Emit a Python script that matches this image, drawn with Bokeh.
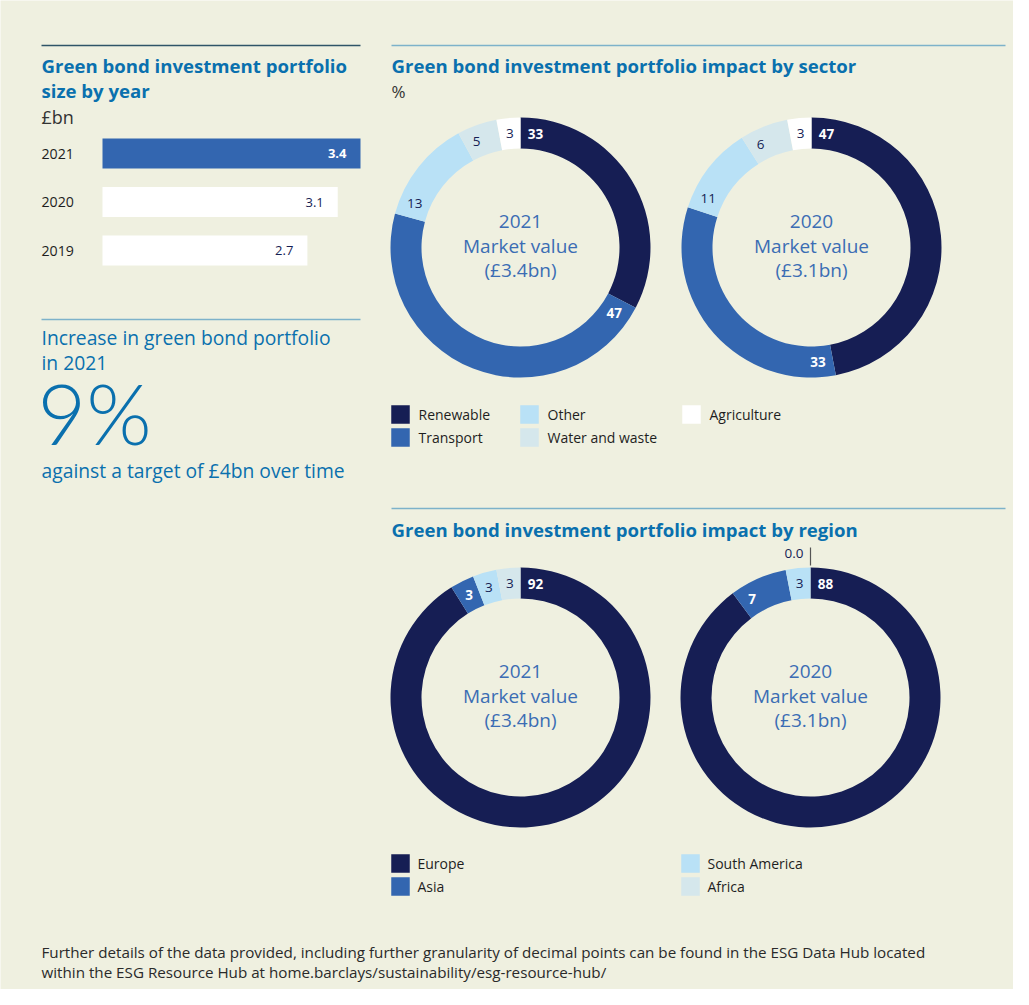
import math
from bokeh.plotting import figure
from bokeh.models import Range1d
from bokeh.core.properties import value
from bokeh.embed import file_html
from bokeh.resources import INLINE

# ---------------- data ----------------
bar_years = ["2021", "2020", "2019"]
bar_values = [3.4, 3.1, 2.7]

sector_names = ["Renewable", "Transport", "Other", "Water and waste", "Agriculture"]
sector_2021 = [33, 47, 13, 5, 3]
sector_2020 = [47, 33, 11, 6, 3]

region_names = ["Europe", "Asia", "South America", "Africa"]
region_2021 = [92, 3, 3, 3]
region_2020 = [88, 7, 3, 0.0]

donut_years = ["2021", "2020"]
market_values = [3.4, 3.1]
increase_pct = 9
target_bn = 4

# ---------------- style ----------------
BG = "#EFF0E0"
TITLE = "#0A70AE"
CENTER = "#3B6DB4"
NAVY = "#161E54"
MID = "#3366B0"
LIGHT = "#B9E1F6"
PALE = "#D5E7EC"
WHITE = "#FFFFFF"
DARK = "#1E1E1E"
RULE_DARK = "#2F5468"
RULE = "#7DB2CA"
FONT = "Open Sans"

sector_colors = [NAVY, MID, LIGHT, PALE, WHITE]
region_colors = [NAVY, MID, LIGHT, PALE]

W, H = 1013, 989
OX, OY = 0, 0

p = figure(width=W, height=H, x_range=Range1d(OX, OX + W), y_range=Range1d(OY + H, OY),
           output_backend="svg", toolbar_location=None, min_border=0,
           background_fill_color=BG, border_fill_color=BG, outline_line_color=None)
p.axis.visible = False
p.grid.visible = False


def txt(x, y, s, size, color=DARK, style="normal", align="left", font=FONT, **kw):
    p.text(x=[x], y=[y], text=[s], text_font=value(font), text_font_size=f"{size}px",
           text_color=color, text_font_style=style, text_align=align,
           text_baseline="middle", **kw)


def rule(x0, x1, y, color):
    p.segment(x0=[x0], y0=[y], x1=[x1], y1=[y], line_color=color, line_width=1.3)


# ---------------- left column ----------------
rule(41, 360, 45, RULE_DARK)
txt(41, 65, "Green bond investment portfolio", 18.6, TITLE, "bold")
txt(41, 90, "size by year", 18.6, TITLE, "bold")
txt(41, 116, "£bn", 18, "#333333")

BAR_X0 = 102
BAR_SCALE = 258 / 3.4  # px per £bn
p.extra_x_ranges = {"bar": Range1d(start=(OX - BAR_X0) / BAR_SCALE,
                                   end=(OX + W - BAR_X0) / BAR_SCALE)}
bar_y = [153 + i * 48.5 for i in range(len(bar_years))]
bar_fill = [MID if i == 0 else WHITE for i in range(len(bar_years))]
p.hbar(y=bar_y, left=0, right=bar_values, height=30, x_range_name="bar",
       fill_color=bar_fill, line_color=None)
for i, (yr, v) in enumerate(zip(bar_years, bar_values)):
    txt(41, bar_y[i], yr, 14.2, DARK)
    p.text(x=[v], y=[bar_y[i]], text=[f"{v}"], x_range_name="bar", x_offset=-14,
           text_font=value(FONT), text_font_size="13px",
           text_color=WHITE if i == 0 else NAVY, text_font_style="bold" if i == 0 else "normal",
           text_align="right", text_baseline="middle")

rule(41, 360, 319, RULE)
txt(41, 337, "Increase in green bond portfolio", 19.3, TITLE)
txt(41, 362, "in 2021", 19.3, TITLE)
txt(37, 412, f"{increase_pct}%", 84, TITLE, font="Lato Light, Lato")
txt(41, 470, f"against a target of £{target_bn}bn over time", 19.3, TITLE)

# ---------------- donuts ----------------
R_OUT, R_IN = 130, 99
R_MID = (R_OUT + R_IN) / 2


def donut(cx, cy, vals, colors, year, mv):
    total = sum(vals)
    theta = 0.0
    for i, (v, c) in enumerate(zip(vals, colors)):
        seg = v / total * 360.0
        if v > 0:
            a_start = math.radians(90 - theta)
            a_end = math.radians(90 - (theta + seg))
            p.annular_wedge(x=[cx], y=[cy], inner_radius=R_IN, outer_radius=R_OUT,
                            inner_radius_units="screen", outer_radius_units="screen",
                            start_angle=a_end, end_angle=a_start, direction="anticlock",
                            fill_color=c, line_color=None)
            lab = f"{v:g}"
            off_px = 15 if len(lab) >= 2 else 12
            off = min(math.degrees(off_px / R_MID), seg * 0.5)
            t = math.radians(theta + off)
            lx = cx + R_MID * math.sin(t)
            ly = cy - R_MID * math.cos(t)
            dark = c in (NAVY, MID)
            txt(lx, ly, lab, 13.5, WHITE if dark else NAVY, "bold" if dark else "normal", "center")
        else:
            t = math.radians(theta)
            x0 = cx + (R_OUT + 2) * math.sin(t)
            y0 = cy - (R_OUT + 2) * math.cos(t)
            x1 = cx + (R_OUT + 20) * math.sin(t)
            y1 = cy - (R_OUT + 20) * math.cos(t)
            p.segment(x0=[x0], y0=[y0], x1=[x1], y1=[y1], line_color="#555555", line_width=1.2)
            txt(x1 - 7, y1 + 6, f"{v:.1f}", 13.5, NAVY, "normal", "right")
        theta += seg
    txt(cx, cy - 26, year, 19, CENTER, align="center")
    txt(cx, cy - 2, "Market value", 19, CENTER, align="center")
    txt(cx, cy + 22, f"(£{mv}bn)", 19, CENTER, align="center")


# sector section
rule(391, 1005, 45, RULE)
txt(391, 65, "Green bond investment portfolio impact by sector", 18.6, TITLE, "bold")
txt(391, 91, "%", 17, "#333333")
donut(520, 247, sector_2021, sector_colors, donut_years[0], market_values[0])
donut(811, 247, sector_2020, sector_colors, donut_years[1], market_values[1])

sec_leg_x = [391, 391, 520, 520, 682]
sec_leg_y = [414, 437, 414, 437, 414]
p.rect(x=[x + 9 for x in sec_leg_x], y=sec_leg_y, width=18.5, height=18.5,
       fill_color=sector_colors, line_color=None)
for n, x, y in zip(sector_names, sec_leg_x, sec_leg_y):
    txt(x + 27, y, n, 14, DARK)

# region section
rule(391, 1005, 508, RULE)
txt(391, 529, "Green bond investment portfolio impact by region", 18.6, TITLE, "bold")
donut(520, 697, region_2021, region_colors, donut_years[0], market_values[0])
donut(810, 697, region_2020, region_colors, donut_years[1], market_values[1])

reg_leg_x = [391, 391, 681, 681]
reg_leg_y = [863, 886, 863, 886]
p.rect(x=[x + 9 for x in reg_leg_x], y=reg_leg_y, width=18.5, height=18.5,
       fill_color=region_colors, line_color=None)
for n, x, y in zip(region_names, reg_leg_x, reg_leg_y):
    txt(x + 26, y, n, 14, DARK)

# footer
txt(41, 951, "Further details of the data provided, including further granularity of decimal points "
             "can be found in the ESG Data Hub located", 15.2, "#2A2A2A")
txt(41, 971, "within the ESG Resource Hub at home.barclays/sustainability/esg-resource-hub/", 15.2, "#2A2A2A")

open("out.html", "w").write(file_html(p, INLINE))
